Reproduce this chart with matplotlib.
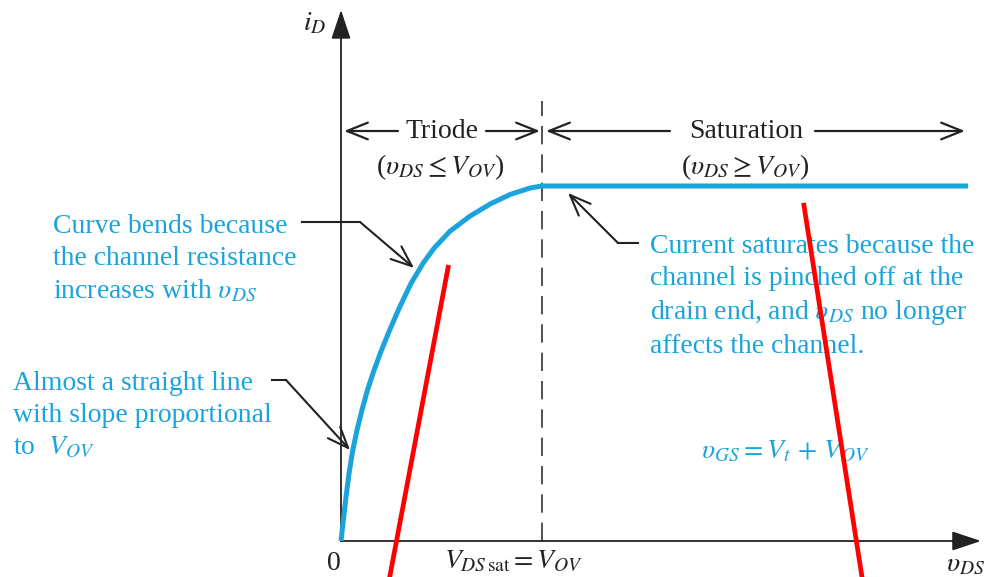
import matplotlib
matplotlib.use("Agg")
import matplotlib.pyplot as plt
from matplotlib.patches import FancyArrowPatch

plt.rcParams['font.family'] = ['Liberation Serif', 'DejaVu Serif']
plt.rcParams['mathtext.fontset'] = 'stix'

# ---- data (vDS in units of V_OV, iD normalised to saturation current) ----
vds = [0.0, 0.0114, 0.0249, 0.0398, 0.0572, 0.0796, 0.1045, 0.1318, 0.1617,
       0.1965, 0.2388, 0.2886, 0.3483, 0.4080, 0.4627, 0.5423, 0.6418, 0.7413,
       0.8408, 0.9403, 1.0, 3.12]
id_ = [0.0, 0.0580, 0.1239, 0.1901, 0.2512, 0.3126, 0.3692, 0.4257, 0.4767,
       0.5304, 0.5898, 0.6549, 0.7256, 0.7822, 0.8246, 0.8727, 0.9151, 0.9491,
       0.9760, 0.9943, 1.0, 1.0]
vov = 1.0
red1_v = [0.533, 0.2423]
red1_i = [0.771, -0.1014]
red2_v = [2.303, 2.592]
red2_i = [0.946, -0.1014]

BLUE = '#1ba3dc'
RED = '#ff0000'
AX = '#222222'

fig = plt.figure(figsize=(9.84, 5.77), dpi=100)
ax = fig.add_axes([0, 0, 1, 1])
ax.set_xlim(-341 / 201, (984 - 341) / 201)
ax.set_ylim(-36 / 355, 541 / 355)
ax.axis('off')

# axes with arrows
ax.annotate('', xy=(3.184, 0), xytext=(0, 0),
            arrowprops=dict(arrowstyle='-|>,head_length=0.9,head_width=0.3', color=AX, lw=1.3,
                            shrinkA=0, shrinkB=0, mutation_scale=20))
ax.annotate('', xy=(0, 1.496), xytext=(0, 0),
            arrowprops=dict(arrowstyle='-|>,head_length=0.9,head_width=0.3', color=AX, lw=1.3,
                            shrinkA=0, shrinkB=0, mutation_scale=20))

# dashed boundary
ax.plot([vov, vov], [0, 1.24], color='#333333', lw=1.2, ls=(0, (11, 6)), zorder=1)

# curve
ax.plot(vds, id_, color=BLUE, lw=3.6, solid_capstyle='butt', solid_joinstyle='round', zorder=3)

# red overlay lines
ax.plot(red1_v, red1_i, color=RED, lw=3.4, zorder=5, clip_on=False)
ax.plot(red2_v, red2_i, color=RED, lw=3.4, zorder=5, clip_on=False)

def P(px, py):
    return ((px - 341) / 201, (541 - py) / 355)

ARW = '->,head_length=0.75,head_width=0.3'

def harrow(x0, x1, y):
    a = FancyArrowPatch(P(x0, y), P(x1, y), arrowstyle=ARW,
                        mutation_scale=20, color='#222222', lw=1.6, shrinkA=0, shrinkB=0)
    ax.add_patch(a)

# region arrows
harrow(398, 344, 131)
harrow(486, 540, 131)
harrow(670, 546, 131)
harrow(815, 965, 131)

fs = 20
TXT = '#222222'
ax.text(*P(442, 131), 'Triode', fontsize=fs, ha='center', va='center', color=TXT)
ax.text(*P(746, 131), 'Saturation', fontsize=fs, ha='center', va='center', color=TXT)
ax.text(*P(440, 167), r'($\upsilon_{DS} \leq V_{OV}$)', fontsize=fs, ha='center', va='center', color=TXT)
ax.text(*P(745, 167), r'($\upsilon_{DS} \geq V_{OV}$)', fontsize=fs, ha='center', va='center', color=TXT)

# axis labels
ax.text(*P(315, 24), r'$i_D$', fontsize=fs, ha='center', va='center', color=TXT)
ax.text(*P(334, 564), '0', fontsize=fs, ha='center', va='center', color=TXT)
ax.text(*P(514, 562), r'$V_{DS\,\mathrm{sat}} = V_{OV}$', fontsize=fs, ha='center', va='center', color=TXT)
ax.text(*P(966, 565), r'$\upsilon_{DS}$', fontsize=fs, ha='center', va='center', color=TXT)

# blue annotations
ls = 1.35
ax.text(*P(53, 214), 'Curve bends because\nthe channel resistance\nincreases with $\\upsilon_{DS}$',
        fontsize=fs, ha='left', va='top', color=BLUE, linespacing=ls)
ax.text(*P(13, 371), 'Almost a straight line\nwith slope proportional\nto  $V_{OV}$',
        fontsize=fs, ha='left', va='top', color=BLUE, linespacing=ls)
ax.text(*P(650, 234), 'Current saturates because the\nchannel is pinched off at the\n'
        'drain end, and $\\upsilon_{DS}$ no longer\naffects the channel.',
        fontsize=fs, ha='left', va='top', color=BLUE, linespacing=ls)
ax.text(*P(785, 452), r'$\upsilon_{GS} = V_t\, +\, V_{OV}$', fontsize=fs, ha='center', va='center', color=BLUE)

# leader arrows
def leader(pts):
    xs = [P(*p)[0] for p in pts]
    ys = [P(*p)[1] for p in pts]
    ax.plot(xs[:-1], ys[:-1], color='#222222', lw=1.5)
    a = FancyArrowPatch((xs[-2], ys[-2]), (xs[-1], ys[-1]), arrowstyle=ARW,
                        mutation_scale=20, color='#222222', lw=1.5, shrinkA=0, shrinkB=0)
    ax.add_patch(a)

leader([(302, 222), (360, 222), (414, 268)])
leader([(272, 380), (286, 380), (350, 450)])
leader([(638, 243), (618, 243), (568, 193)])

fig.savefig('out.png', dpi=100)
